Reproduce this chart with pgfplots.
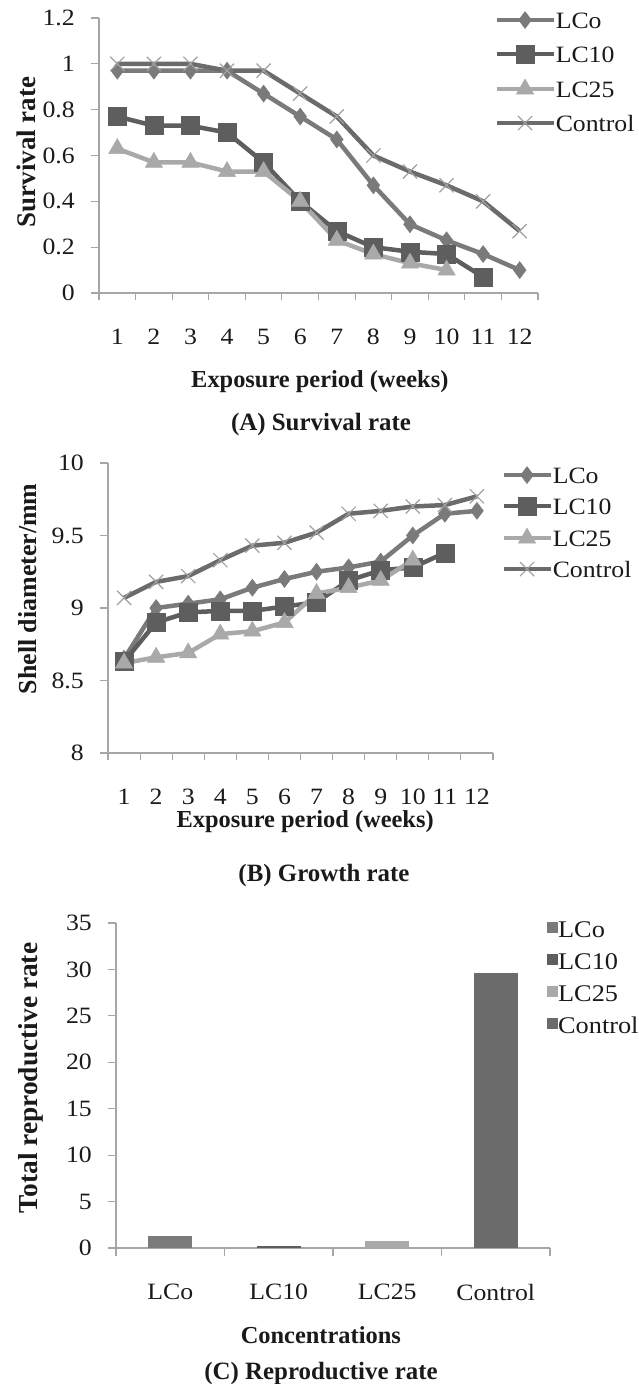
\documentclass[border=0pt]{standalone}
\usepackage{fontspec}
\setmainfont{Liberation Serif}
\newfontfamily\wideserif[FakeStretch=1.1]{Liberation Serif}
\usepackage{pgfplots}
\pgfplotsset{compat=1.18}

\definecolor{cLCo}{HTML}{7A7A7A}
\definecolor{cLCten}{HTML}{5E5E5E}
\definecolor{cLCtf}{HTML}{A9A9A9}
\definecolor{cCtrl}{HTML}{6B6B6B}
\definecolor{cCross}{HTML}{A0A0A0}
\definecolor{axgray}{HTML}{A6A6A6}
\definecolor{txt}{HTML}{1A1A1A}

\newcommand{\tickfont}{\wideserif\fontsize{23.5}{26}\selectfont}
\newcommand{\legfont}{\wideserif\fontsize{23.5}{26}\selectfont}
\newcommand{\labfont}{\fontsize{24.5}{28}\selectfont\bfseries}
\newcommand{\capfont}{\fontsize{25}{28}\selectfont\bfseries}

\pgfplotsset{
  panel/.style={
    scale only axis, clip=false,
    axis x line*=bottom, axis y line*=left,
    axis line style={axgray, line width=1.3bp},
    tick style={axgray, line width=1.1bp},
    tick align=outside,
    major tick length=8bp,
    minor tick length=7bp,
    /pgf/number format/assume math mode=true,
    tick label style={font=\tickfont, text=txt, inner sep=0pt},
    yticklabel style={anchor=east, xshift=-16bp},
    xticklabel style={anchor=north, yshift=-28bp},
    major x tick style={draw=none},
  },
  xlab/.style={every axis x label/.style={at={(axis description cs:#1)},
    anchor=center, font=\labfont, text=txt}},
  ylab/.style 2 args={every axis y label/.style={at={(axis description cs:#1)},
    anchor=center, rotate=90, font=\fontsize{#2}{30}\selectfont\bfseries, text=txt}},
  linelegend/.style={
    legend style={draw=none, fill=none, inner sep=0pt, font=\legfont,
      text=txt, cells={anchor=west}, column sep=-1bp,
      nodes={inner sep=1bp, text height=16bp, text depth=0bp}},
    legend image code/.code={
      \draw[mark repeat=2, mark phase=2] plot coordinates {(0bp,0bp) (0.5*#1,0bp) (#1,0bp)};},
  },
  LCo/.style={color=cLCo, line width=4.5bp, mark=diamond*, mark size=8.5bp,
    mark options={solid, fill=cLCo, line width=0.5bp}},
  LCten/.style={color=cLCten, line width=4.5bp, mark=square*, mark size=9bp,
    mark options={solid, fill=cLCten, line width=0.5bp}},
  LCtf/.style={color=cLCtf, line width=4.5bp, mark=triangle*, mark size=10bp,
    mark options={solid, fill=cLCtf, line width=0.5bp}},
  Ctrl/.style={color=cCtrl, line width=4.5bp, mark=x, mark size=10bp,
    mark options={solid, draw=cCross, line width=1.2bp}},
}

\begin{document}
\begin{tikzpicture}
\path[use as bounding box] (0bp,0bp) rectangle (639bp,-1384bp);

% ---------------- (A) survival rate ----------------
\begin{axis}[panel, linelegend=57bp,
  at={(99bp,-293bp)}, anchor=south west,
  width=439bp, height=275bp,
  xmin=0.5, xmax=12.5, ymin=0, ymax=1.2,
  xtick={1,...,12},
  minor xtick={0.5,1.5,...,12.5},
  ytick={0,0.2,0.4,0.6,0.8,1,1.2},
  yticklabels={0,0.2,0.4,0.6,0.8,1,1.2},
  xlabel={Exposure period (weeks)},
  ylabel={Survival rate},
  xlab={0.503,-0.324}, ylab={-0.166,0.513}{27},
  legend style={at={(0.900,1.026)}, anchor=north west, row sep=16bp},
]
\addplot[LCo] coordinates {(1,0.97)(2,0.97)(3,0.97)(4,0.97)(5,0.87)(6,0.77)
  (7,0.67)(8,0.47)(9,0.30)(10,0.23)(11,0.17)(12,0.10)};
\addlegendentry{LCo}
\addplot[LCten] coordinates {(1,0.77)(2,0.73)(3,0.73)(4,0.70)(5,0.57)(6,0.40)
  (7,0.27)(8,0.20)(9,0.18)(10,0.17)(11,0.07)};
\addlegendentry{LC10}
\addplot[LCtf] coordinates {(1,0.63)(2,0.57)(3,0.57)(4,0.53)(5,0.53)(6,0.40)
  (7,0.23)(8,0.17)(9,0.13)(10,0.10)};
\addlegendentry{LC25}
\addplot[Ctrl] coordinates {(1,1.00)(2,1.00)(3,1.00)(4,0.97)(5,0.97)(6,0.87)
  (7,0.77)(8,0.60)(9,0.53)(10,0.47)(11,0.40)(12,0.27)};
\addlegendentry{Control}
\end{axis}
\node[font=\capfont, text=txt] at (321bp,-425bp) {(A) Survival rate};

% ---------------- (B) growth rate ----------------
\begin{axis}[panel, linelegend=47bp,
  at={(108bp,-753bp)}, anchor=south west,
  width=385bp, height=290bp,
  xmin=0.5, xmax=12.5, ymin=8, ymax=10,
  xtick={1,...,12},
  minor xtick={0.5,1.5,...,12.5},
  ytick={8,8.5,9,9.5,10},
  yticklabels={8,8.5,9,9.5,10},
  xlabel={Exposure period (weeks)},
  ylabel={Shell diameter/mm},
  xlab={0.512,-0.238}, ylab={-0.208,0.566}{26},
  legend style={at={(1.021,0.990)}, anchor=north west, row sep=13bp},
]
\addplot[LCo] coordinates {(1,8.65)(2,9.00)(3,9.03)(4,9.06)(5,9.14)(6,9.20)
  (7,9.25)(8,9.28)(9,9.32)(10,9.50)(11,9.65)(12,9.67)};
\addlegendentry{LCo}
\addplot[LCten] coordinates {(1,8.63)(2,8.90)(3,8.97)(4,8.98)(5,8.98)(6,9.01)
  (7,9.04)(8,9.19)(9,9.26)(10,9.28)(11,9.38)};
\addlegendentry{LC10}
\addplot[LCtf] coordinates {(1,8.62)(2,8.66)(3,8.69)(4,8.82)(5,8.84)(6,8.90)
  (7,9.10)(8,9.14)(9,9.19)(10,9.33)};
\addlegendentry{LC25}
\addplot[Ctrl] coordinates {(1,9.07)(2,9.18)(3,9.22)(4,9.33)(5,9.43)(6,9.45)
  (7,9.52)(8,9.65)(9,9.67)(10,9.70)(11,9.71)(12,9.77)};
\addlegendentry{Control}
\end{axis}
\node[font=\capfont, text=txt] at (324bp,-875bp) {(B) Growth rate};

% ---------------- (C) reproductive rate ----------------
\begin{axis}[panel,
  at={(116bp,-1248bp)}, anchor=south west,
  width=434bp, height=325bp,
  xmin=0.5, xmax=4.5, ymin=0, ymax=35,
  xtick={1,2,3,4},
  xticklabels={LCo,LC10,LC25,Control},
  minor xtick={0.5,1.5,2.5,3.5,4.5},
  minor tick length=8bp,
  ytick={0,5,...,35},
  xlabel={Concentrations},
  ylabel={Total reproductive rate},
  xlab={0.472,-0.268}, ylab={-0.196,0.523}{27.5},
  ybar, bar width=44bp,
  legend style={at={(0.993,1.012)}, anchor=north west, draw=none, fill=none,
    inner sep=0pt, font={\wideserif\fontsize{24}{27}\selectfont}, text=txt,
    cells={anchor=west}, column sep=-1bp,
    row sep=13bp, nodes={inner sep=1bp, text height=17bp, text depth=0bp}},
  legend image code/.code={\fill (0bp,-4bp) rectangle (11bp,7bp);},
]
\addplot[draw=none, fill=cLCo, bar shift=0pt] coordinates {(1,1.3)};
\addlegendentry{LCo}
\addplot[draw=none, fill=cLCten, bar shift=0pt] coordinates {(2,0.18)};
\addlegendentry{LC10}
\addplot[draw=none, fill=cLCtf, bar shift=0pt] coordinates {(3,0.8)};
\addlegendentry{LC25}
\addplot[draw=none, fill=cCtrl, bar shift=0pt] coordinates {(4,29.6)};
\addlegendentry{Control}
\end{axis}
\node[font=\capfont, text=txt] at (321bp,-1373bp) {(C) Reproductive rate};
\end{tikzpicture}
\end{document}
